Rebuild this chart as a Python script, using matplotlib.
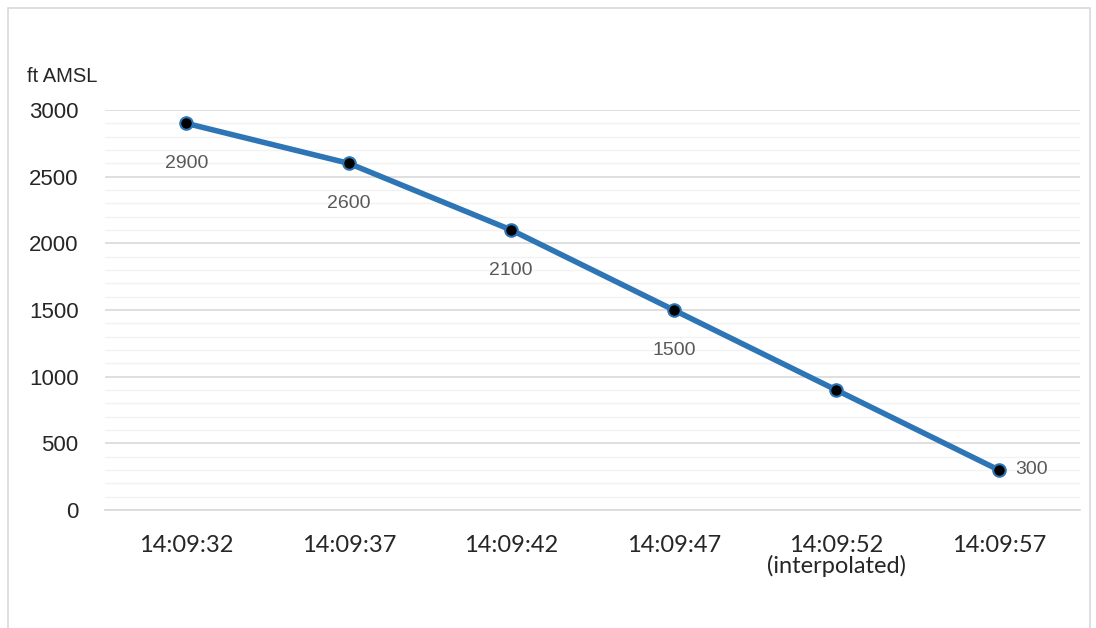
import numpy as np
import matplotlib.pyplot as plt
from matplotlib.patches import Rectangle
from matplotlib.ticker import MultipleLocator

times = ["14:09:32", "14:09:37", "14:09:42", "14:09:47", "14:09:52\n(interpolated)", "14:09:57"]
altitude = [2900, 2600, 2100, 1500, 900, 300]
shown_labels = ["2900", "2600", "2100", "1500", None, "300"]

W, H = 1096, 628
fig = plt.figure(figsize=(W / 100, H / 100), dpi=100)
ax = fig.add_axes([105 / W, 1 - 510 / H, (1080 - 105) / W, 400 / H])

# outer frame of the chart area
fig.patches.append(Rectangle((8 / W, -0.01), (1090 - 8) / W, 1 - 8 / H + 0.01,
                             transform=fig.transFigure, fill=False,
                             edgecolor="#d9d9d9", lw=1.2))

x = np.arange(len(times))
ax.plot(x, altitude, color="#2e75b6", lw=4, solid_capstyle="round", zorder=3)
ax.plot(x, altitude, ls="none", marker="o", ms=9, mfc="black", mec="#2e75b6",
        mew=1.5, zorder=4)

for xi, yi, lab in zip(x, altitude, shown_labels):
    if lab is None:
        continue
    if xi == len(x) - 1:
        ax.annotate(lab, (xi, yi), xytext=(12, 0), textcoords="offset points",
                    ha="left", va="center", fontsize=14, color="#595959",
                    family="Liberation Sans")
    else:
        ax.annotate(lab, (xi, yi), xytext=(0, -29), textcoords="offset points",
                    ha="center", va="center", fontsize=14, color="#595959",
                    family="Liberation Sans")

ax.set_xlim(-0.5, len(x) - 0.5)
ax.set_ylim(0, 3000)
ax.yaxis.set_major_locator(MultipleLocator(500))
ax.yaxis.set_minor_locator(MultipleLocator(100))
ax.grid(axis="y", which="major", color="#d9d9d9", lw=1.2, zorder=0)
ax.grid(axis="y", which="minor", color="#f2f2f2", lw=1.0, zorder=0)
ax.set_axisbelow(True)

for s in ["top", "right", "left"]:
    ax.spines[s].set_visible(False)
ax.spines["bottom"].set_color("#d9d9d9")
ax.spines["bottom"].set_linewidth(1.2)

ax.set_xticks(x)
ax.set_xticklabels(times, fontsize=17, family="Lato", color="#262626",
                   linespacing=0.95)
ax.tick_params(axis="x", length=0, pad=18)
ax.tick_params(axis="y", which="both", length=0, pad=19, labelsize=16,
               labelcolor="#262626")
for t in ax.get_yticklabels():
    t.set_family("Liberation Sans")

fig.text(27 / W, 1 - 76 / H, "ft AMSL", fontsize=14.5, family="Liberation Sans",
         color="#262626", va="center", ha="left")

fig.savefig("out.png", dpi=100)
